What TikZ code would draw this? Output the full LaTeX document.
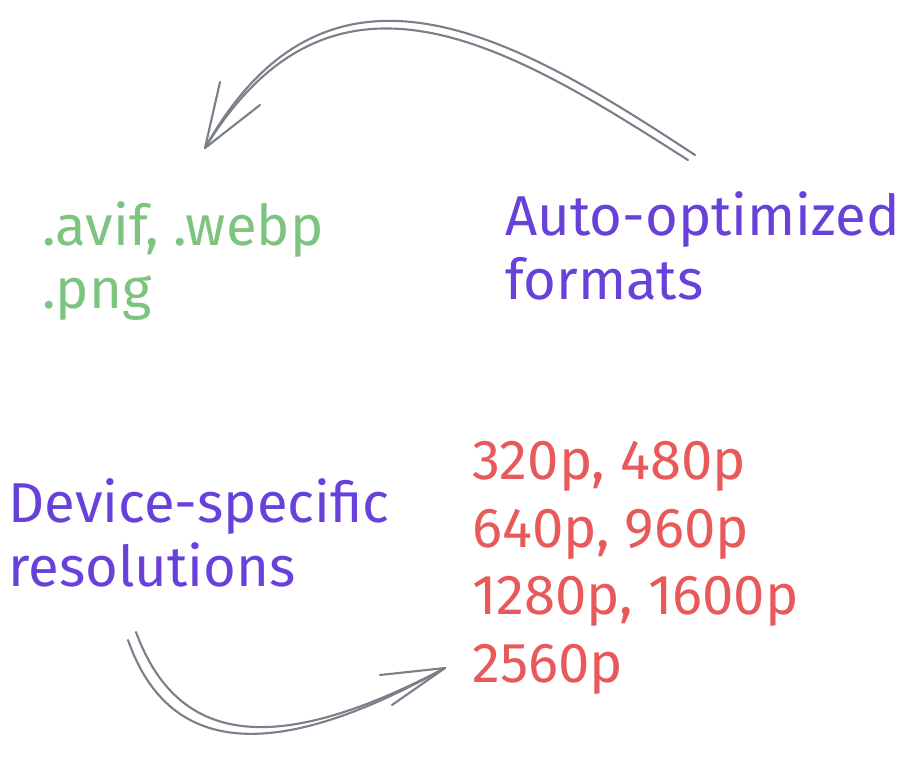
\documentclass[tikz,border=0pt]{standalone}
\usepackage{fontspec}
\setmainfont{Fira Sans}
\usetikzlibrary{positioning,arrows.meta}
\definecolor{violet}{HTML}{6741D9}
\definecolor{leaf}{HTML}{7CC47F}
\definecolor{coral}{HTML}{E8595A}
\definecolor{pencil}{HTML}{7A7F88}
\tikzset{
  label/.style={anchor=west,inner sep=0pt,font=\fontsize{32}{36}\selectfont,align=left},
  sketch/.style={pencil,line width=1.2pt,line cap=round}
}
\begin{document}
\begin{tikzpicture}[x=0.02cm,y=-0.02cm]
\useasboundingbox (0,0) rectangle (903,768);
% Formats
\node[label,text=leaf] (fmt) at (42,261) {.avif, .webp\\.png};
\node[label,text=violet] (auto) at (505,246) {Auto-optimized\\formats};
% Resolutions
\node[label,text=violet] (dev) at (8,533) {Device-specific\\resolutions};
\node[label,text=coral,font=\fontsize{32}{38.5}\selectfont] (res) at (472,568) {320p, 480p\\640p, 960p\\1280p, 1600p\\2560p};
% Upper arrow
\coordinate (a1) at (695,155);
\coordinate (a2) at (205,148);
\draw[sketch] (a1) .. controls (520,40) and (330,-75) .. (a2);
\draw[sketch] (688,160) .. controls (515,50) and (335,-65) .. (a2);
\draw[sketch] (a2) -- (220,82);
\draw[sketch] (a2) -- (260,105);
% Lower arrow
\coordinate (b1) at (128,640);
\coordinate (b2) at (445,668);
\draw[sketch] (b1) .. controls (170,760) and (280,760) .. (b2);
\draw[sketch] (136,632) .. controls (180,752) and (285,752) .. (b2);
\draw[sketch] (b2) -- (380,675);
\draw[sketch] (b2) -- (392,705);
\end{tikzpicture}
\end{document}
